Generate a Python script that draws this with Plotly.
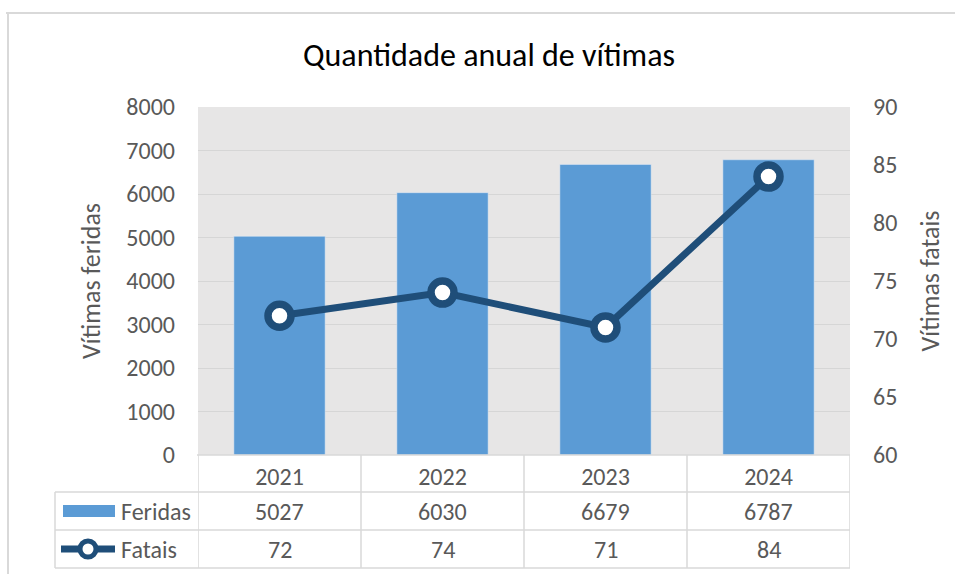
import plotly.graph_objects as go

years = ["2021", "2022", "2023", "2024"]
feridas = [5027, 6030, 6679, 6787]
fatais = [72, 74, 71, 84]
row_labels = ["Feridas", "Fatais"]

FONT = "Calibri, Carlito, Noto Sans, sans-serif"
GRAY = "#595959"
BORDER = "#d9d9d9"
BAR = "#5b9bd5"
LINE = "#1f4e79"

OFF = 0  # body margin removed via post_script
W, H = 955 - OFF, 574 - OFF
L, R, T, B = 198 - OFF, 105, 107 - OFF, 119
PW, PH = W - L - R, H - T - B


def px(x):
    return (x - OFF - L) / PW


def py(y):
    return (H - B - (y - OFF)) / PH


fig = go.Figure()
fig.add_trace(go.Bar(x=years, y=feridas, name="Feridas", marker_color=BAR,
                     width=0.56, yaxis="y"))
fig.add_trace(go.Scatter(x=years, y=fatais, name="Fatais", yaxis="y2",
                         mode="lines+markers",
                         line=dict(color=LINE, width=7),
                         marker=dict(symbol="circle", size=23, color="white",
                                     line=dict(color=LINE, width=7.5))))

shapes = []
annotations = []

# table lines
row_y = [455, 492, 530, 568]
for i, yy in enumerate(row_y):
    x0 = px(197) if i == 0 else px(55)
    shapes.append(dict(type="line", xref="paper", yref="paper", x0=x0, x1=1,
                       y0=py(yy), y1=py(yy), line=dict(color=BORDER, width=1.5)))
shapes.append(dict(type="line", xref="paper", yref="paper", x0=px(55), x1=px(55),
                   y0=py(492), y1=py(568), line=dict(color=BORDER, width=1.5)))
for k in range(len(years) + 1):
    shapes.append(dict(type="line", xref="x", yref="paper", x0=k - 0.5, x1=k - 0.5,
                       y0=py(455), y1=py(568), line=dict(color=BORDER, width=1.5)))

# table values
for row, vals in zip([511, 549], [feridas, fatais]):
    for i, v in enumerate(vals):
        annotations.append(dict(x=i, xref="x", y=py(row), yref="paper",
                                text=str(v), showarrow=False, yanchor="middle",
                                font=dict(size=24, color=GRAY, family=FONT)))

# legend keys in table
shapes.append(dict(type="rect", xref="paper", yref="paper", x0=px(63), x1=px(115),
                   y0=py(517), y1=py(505), fillcolor=BAR, line=dict(width=0)))
shapes.append(dict(type="line", xref="paper", yref="paper", x0=px(61), x1=px(115),
                   y0=py(549), y1=py(549), line=dict(color=LINE, width=7)))
shapes.append(dict(type="circle", xref="paper", yref="paper", x0=px(80), x1=px(96),
                   y0=py(557), y1=py(541), fillcolor="white",
                   line=dict(color=LINE, width=5)))
for lab, row in zip(row_labels, [511, 549]):
    annotations.append(dict(x=px(119), xref="paper", y=py(row), yref="paper",
                            text=lab, showarrow=False, xanchor="left", yanchor="middle",
                            font=dict(size=24, color=GRAY, family=FONT)))

# outer chart border
shapes.append(dict(type="line", xref="paper", yref="paper", x0=px(6), x1=px(960),
                   y0=py(13), y1=py(13), line=dict(color=BORDER, width=2)))
shapes.append(dict(type="line", xref="paper", yref="paper", x0=px(8), x1=px(8),
                   y0=py(13), y1=py(590), line=dict(color=BORDER, width=2)))

fig.update_layout(
    width=W, height=H,
    margin=dict(l=L, r=R, t=T, b=B),
    paper_bgcolor="white",
    plot_bgcolor="#e7e6e6",
    showlegend=False,
    font=dict(family=FONT, color=GRAY, size=24),
    title=dict(text="Quantidade anual de vítimas", x=(489 - OFF) / W, xanchor="center",
               xref="container", y=1 - (55 - OFF) / H, yanchor="middle",
               yref="container",
               font=dict(size=32, color="#000000", family=FONT)),
    xaxis=dict(type="category", range=[-0.5, 3.5], showgrid=False, zeroline=False,
               showline=False, ticks="", ticklabelstandoff=5,
               tickfont=dict(size=24, color=GRAY)),
    yaxis=dict(range=[0, 8000], dtick=1000, showgrid=True, gridcolor="#d6d6d6",
               gridwidth=1.2, zeroline=False, ticks="", ticklabelstandoff=22,
               tickfont=dict(size=24, color=GRAY),
               title=dict(text="Vítimas feridas", standoff=18,
                          font=dict(size=26, color=GRAY))),
    yaxis2=dict(range=[60, 90], dtick=5, overlaying="y", side="right",
                showgrid=False, zeroline=False, ticks="", ticklabelstandoff=22,
                tickfont=dict(size=24, color=GRAY),
                title=dict(text="Vítimas fatais", standoff=24,
                           font=dict(size=26, color=GRAY))),
    shapes=shapes,
    annotations=annotations,
)

fig.write_html("out.html", config={"displayModeBar": False},
               post_script="document.body.style.margin='0';"
                           "document.documentElement.style.overflow='hidden';"
                           "document.body.style.overflow='hidden';")
